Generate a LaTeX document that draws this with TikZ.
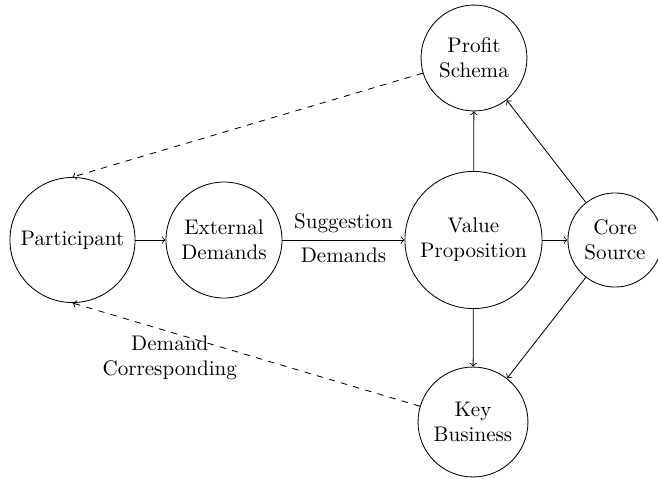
\documentclass[tikz,border=0pt]{standalone}
\usetikzlibrary{arrows}
\begin{document}
\begin{tikzpicture}[x=0.474pt,y=-0.474pt,
  circ/.style={draw,circle,inner sep=0pt,align=center},
  link/.style={->},
  dlink/.style={->,dashed}]
\useasboundingbox (0,0) rectangle (658,479);
\node[circ,minimum size=59.3pt] (part) at (72.5,240) {Participant};
\node[circ,minimum size=55pt] (ext) at (224,240) {External\\Demands};
\node[circ,minimum size=65pt] (val) at (473.5,240) {Value\\Proposition};
\node[circ,minimum size=44.6pt] (core) at (615,240) {Core\\Source};
\node[circ,minimum size=50.2pt] (prof) at (474,58) {Profit\\Schema};
\node[circ,minimum size=52.1pt] (key) at (473,422) {Key\\Business};
\draw[link] (part) -- (ext);
\draw[link] (ext) -- node[midway,above]{Suggestion} node[midway,below]{Demands} (val);
\draw[link] (val) -- (core);
\draw[link] (val) -- (prof);
\draw[link] (val) -- (key);
\draw[link] (core) -- (prof);
\draw[link] (core) -- (key);
\draw[dlink] (prof) -- (part.north);
\draw[dlink] (key) -- node[pos=0.72,below,align=center,yshift=1.6pt]{Demand\\Corresponding} (part.south);
\end{tikzpicture}
\end{document}
